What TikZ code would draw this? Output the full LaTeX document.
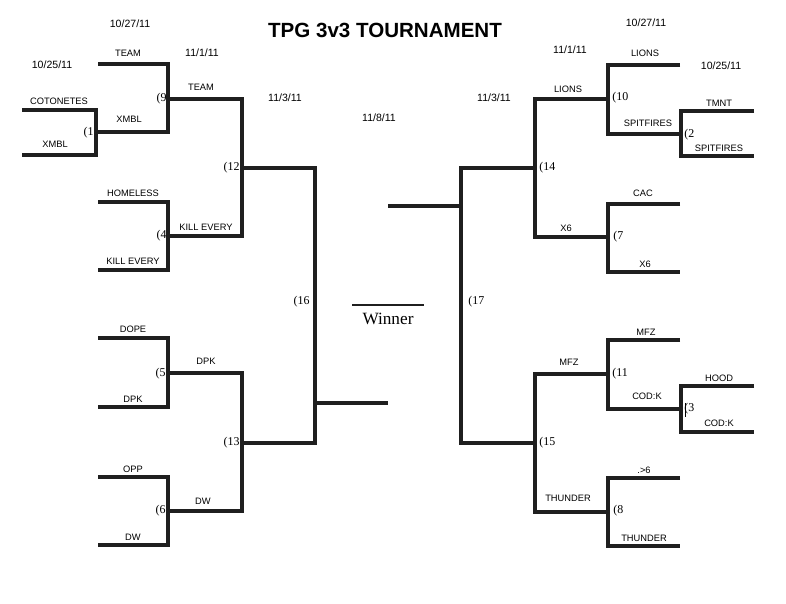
\documentclass[tikz,border=0pt]{standalone}
\usepackage{fontspec}
\setmainfont{Liberation Serif}
\setsansfont{Liberation Sans}
\usetikzlibrary{positioning}

\begin{document}
\begin{tikzpicture}[x=0.02cm, y=-0.02cm,
  br/.style={line width=2pt, black!88},
  tm/.style={font=\sffamily\fontsize{5.3}{6}\selectfont, inner sep=0pt},
  dt/.style={font=\sffamily\fontsize{6}{7}\selectfont, inner sep=0pt},
  mnl/.style={font=\fontsize{6.8}{8}\selectfont, inner sep=0pt, anchor=east},
  mnr/.style={font=\fontsize{6.8}{8}\selectfont, inner sep=0pt, anchor=west}]
\useasboundingbox[fill=white] (0,0) rectangle (786,603);
% title and dates
\node[font=\sffamily\bfseries\fontsize{11.7}{14}\selectfont, inner sep=0pt] (title) at (385,30) {TPG 3v3 TOURNAMENT};
\node[dt] (d1) at (130,24) {10/27/11};
\node[dt] (d2) at (52,65) {10/25/11};
\node[dt] (d3) at (202,53) {11/1/11};
\node[dt] (d4) at (285,98) {11/3/11};
\node[dt] (d5) at (379,118) {11/8/11};
\node[dt] (d6) at (646,23) {10/27/11};
\node[dt] (d7) at (570,50) {11/1/11};
\node[dt] (d8) at (721,66) {10/25/11};
\node[dt] (d9) at (494,98) {11/3/11};
% left half
\draw[br] (22,110) -- (96,110) -- (96,155) -- (22,155);
\draw[br] (98,64) -- (168,64) -- (168,132) -- (96,132);
\draw[br] (168,99) -- (242,99) -- (242,236) -- (168,236);
\draw[br] (98,202) -- (168,202) -- (168,270) -- (98,270);
\draw[br] (242,168) -- (315,168) -- (315,443) -- (242,443);
\draw[br] (315,403) -- (388,403);
\draw[br] (98,338) -- (168,338) -- (168,407) -- (98,407);
\draw[br] (168,373) -- (242,373) -- (242,511) -- (168,511);
\draw[br] (98,477) -- (168,477) -- (168,545) -- (98,545);
\node[tm] (l1) at (59,101) {COTONETES};
\node[tm] (l2) at (55,144) {XMBL};
\node[tm] (l3) at (128,53) {TEAM};
\node[tm] (l4) at (129,119) {XMBL};
\node[tm] (l5) at (201,87) {TEAM};
\node[tm] (l6) at (206,227) {KILL EVERY};
\node[tm] (l7) at (133,193) {HOMELESS};
\node[tm] (l8) at (133,261) {KILL EVERY};
\node[tm] (l9) at (133,329) {DOPE};
\node[tm] (l10) at (133,399) {DPK};
\node[tm] (l11) at (206,361) {DPK};
\node[tm] (l12) at (203,501) {DW};
\node[tm] (l13) at (133,469) {OPP};
\node[tm] (l14) at (133,537) {DW};
\node[mnl] (m1) at (94,133) {(1};
\node[mnl] (m9) at (167,99) {(9};
\node[mnl] (m12) at (240,168) {(12};
\node[mnl] (m4) at (167,236) {(4};
\node[mnl] (m16) at (310,302) {(16};
\node[mnl] (m5) at (166,374) {(5};
\node[mnl] (m13) at (240,443) {(13};
\node[mnl] (m6) at (166,511) {(6};
% winner
\draw[line width=1.3pt, black!88] (352,305) -- (424,305);
\node[font=\fontsize{9.8}{12}\selectfont, inner sep=0pt] (win) at (388,319) {Winner};
% right half
\draw[br] (388,206) -- (461,206);
\draw[br] (535,168) -- (461,168) -- (461,443) -- (535,443);
\draw[br] (608,99) -- (535,99) -- (535,237) -- (608,237);
\draw[br] (680,65) -- (608,65) -- (608,134) -- (681,134);
\draw[br] (754,111) -- (681,111) -- (681,156) -- (754,156);
\draw[br] (680,204) -- (608,204) -- (608,272) -- (680,272);
\draw[br] (608,374) -- (535,374) -- (535,512) -- (608,512);
\draw[br] (680,340) -- (608,340) -- (608,409) -- (681,409);
\draw[br] (754,386) -- (681,386) -- (681,432) -- (754,432);
\draw[br] (680,478) -- (608,478) -- (608,546) -- (680,546);
\node[tm] (r1) at (568,89) {LIONS};
\node[tm] (r2) at (645,53) {LIONS};
\node[tm] (r3) at (648,123) {SPITFIRES};
\node[tm] (r4) at (719,103) {TMNT};
\node[tm] (r5) at (719,148) {SPITFIRES};
\node[tm] (r6) at (643,193) {CAC};
\node[tm] (r7) at (566,228) {X6};
\node[tm] (r8) at (645,264) {X6};
\node[tm] (r9) at (646,332) {MFZ};
\node[tm] (r10) at (569,362) {MFZ};
\node[tm] (r11) at (719,378) {HOOD};
\node[tm] (r12) at (647,396) {COD:K};
\node[tm] (r13) at (719,423) {COD:K};
\node[tm] (r14) at (644,470) {.>6};
\node[tm] (r15) at (568,498) {THUNDER};
\node[tm] (r16) at (644,538) {THUNDER};
\node[mnr] (m17) at (468,302) {(17};
\node[mnr] (m14) at (539,168) {(14};
\node[mnr] (m10) at (612,98) {(10};
\node[mnr] (m2) at (684,135) {(2};
\node[mnr] (m7) at (613,237) {(7};
\node[mnr] (m11) at (612,374) {(11};
\node[mnr] (m3) at (684,409) {(3};
\node[mnr] (m15) at (539,443) {(15};
\node[mnr] (m8) at (613,511) {(8};
\draw[line width=0.4pt] (m3.west) ++(1.5,-6) -- ++(0,14);
\end{tikzpicture}
\end{document}
